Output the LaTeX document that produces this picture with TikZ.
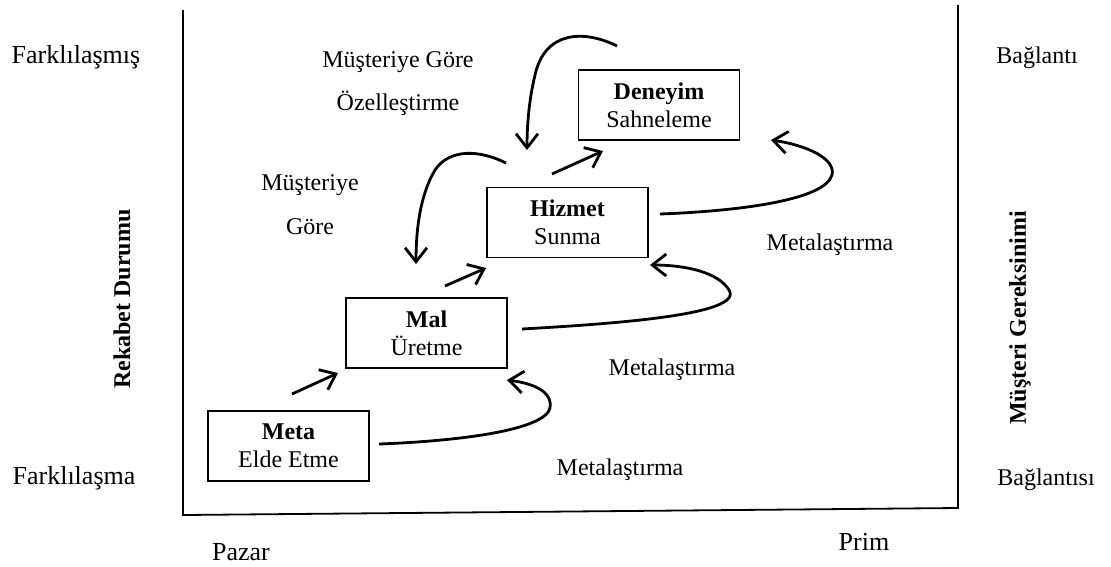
\documentclass[tikz,border=0pt]{standalone}
\usepackage{fontspec}
\setmainfont{Liberation Serif}
\usetikzlibrary{arrows.meta,calc}
\begin{document}
\begin{tikzpicture}[x=1pt,y=-1pt,
  font=\fontsize{24}{28}\selectfont,
  box/.style={draw, line width=1.3pt, minimum width=161pt, minimum height=70pt,
    align=center, inner sep=0pt},
  lbl/.style={inner sep=0pt, anchor=center},
  biglbl/.style={inner sep=0pt, anchor=center, font=\fontsize{26}{30}\selectfont},
  vlbl/.style={inner sep=0pt, anchor=center, rotate=90, font=\fontsize{24}{28}\selectfont\bfseries},
  axisline/.style={line width=1.8pt},
  flow/.style={line width=2.8pt, -{Straight Barb[length=14pt,width=22pt]}},
]
\useasboundingbox (0,0) rectangle (1111,566);

% axes
\coordinate (tl) at (183,10);
\coordinate (bl) at (183,515);
\coordinate (br) at (958,508);
\coordinate (tr) at (958,5);
\draw[axisline] (tl) -- (bl) -- (br) -- (tr);

% side labels
\node[biglbl] (fl1) at (76,57) {Farklılaşmış};
\node[biglbl] (fl2) at (74,478) {Farklılaşma};
\node[vlbl] (rek) at (122,299) {Rekabet Durumu};
\node[lbl] (bg1) at (1037,58) {Bağlantı};
\node[lbl] (bg2) at (1046,480) {Bağlantısı};
\node[vlbl] (mus) at (1020,318) {Müşteri Gereksinimi};
\node[biglbl] (paz) at (241,552) {Pazar};
\node[biglbl] (prim) at (864,542) {Prim};

% boxes
\node[box] (meta) at (288.5,446) {\textbf{Meta}\\Elde Etme};
\node[box] (mal) at (426.5,333) {\textbf{Mal}\\Üretme};
\node[box] (hiz) at (567.5,222.5) {\textbf{Hizmet}\\Sunma};
\node[box] (den) at (659,105) {\textbf{Deneyim}\\Sahneleme};

% inner labels
\node[lbl] (mg1) at (398,62) {Müşteriye Göre};
\node[lbl] (mg2) at (398,103) {Özelleştirme};
\node[lbl] (mg3) at (310,185) {Müşteriye};
\node[lbl] (mg4) at (310,227) {Göre};
\node[lbl] (met1) at (830,245) {Metalaştırma};
\node[lbl] (met2) at (672,370) {Metalaştırma};
\node[lbl] (met3) at (620,470) {Metalaştırma};

% straight arrows
\coordinate (s1a) at (292,394); \coordinate (s1b) at (338,373);
\coordinate (s2a) at (445,286); \coordinate (s2b) at (486,268);
\coordinate (s3a) at (552,174); \coordinate (s3b) at (603,151);
\draw[flow] (s1a) -- (s1b);
\draw[flow] (s2a) -- (s2b);
\draw[flow] (s3a) -- (s3b);

% metalastirma curves
\coordinate (c1a) at (379,444); \coordinate (c1b) at (507,380);
\coordinate (c2a) at (522,329); \coordinate (c2b) at (650,265);
\coordinate (c3a) at (660,214); \coordinate (c3b) at (771,140);
\draw[flow] (c1a) .. controls (460,441) and (545,430) .. (550,408)
  .. controls (553,390) and (530,383) .. (c1b);
\draw[flow] (c2a) .. controls (610,324) and (745,315) .. (729,290)
  .. controls (718,272) and (685,265) .. (c2b);
\draw[flow] (c3a) .. controls (740,211) and (825,200) .. (832,175)
  .. controls (836,158) and (805,145) .. (c3b);

% musteriye gore curves
\coordinate (m1a) at (617,46); \coordinate (m1b) at (527,150);
\coordinate (m2a) at (506,163); \coordinate (m2b) at (416,264);
\draw[flow] (m1a) .. controls (585,30) and (545,30) .. (535,75)
  .. controls (529,100) and (527,125) .. (m1b);
\draw[flow] (m2a) .. controls (480,150) and (450,148) .. (435,170)
  .. controls (420,195) and (416,230) .. (m2b);
\end{tikzpicture}
\end{document}
